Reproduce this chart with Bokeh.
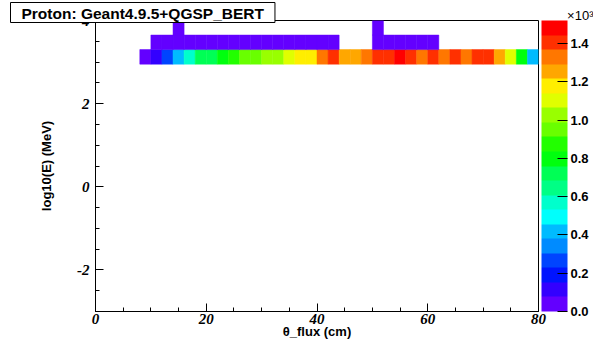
from bokeh.plotting import figure
from bokeh.models import (LinearColorMapper, ColorBar, FixedTicker, SingleIntervalTicker,
                          ColumnDataSource, Range1d, Title)
from bokeh.embed import file_html
from bokeh.resources import INLINE

# ---------------- data (2D histogram: theta_flux [cm] x log10(E) [MeV]) ----------------
x_bin_width = 2.0
y_bin_height = 0.35
row_y_low = [2.95, 3.30, 3.65]          # lower edges of the three filled log10(E) bins

row0_x_start = 8.0
row0_counts = [40, 115, 265, 420, 570, 715, 735, 800, 875, 940, 965, 1020,
               1045, 1100, 1170, 1190, 1330, 1405, 1255, 1265, 1325, 1410, 1425, 1520,
               1395, 1340, 1410, 1335, 1400, 1320, 1430, 1390, 1270, 1105, 795, 425]
row1_x_start = 10.0
row1_counts = [8, 12, 30, 25, 22, 20, 18, 16, 15, 14, 12, 10, 9, 8, 7, 6, 5,
               0, 0, 0,
               6, 9, 8, 7, 5, 4]
row2_x_start = 14.0
row2_counts = [3, 0, 0, 0, 0, 0, 0, 0, 0, 0, 0, 0, 0, 0, 0, 0, 0, 0, 2]

z_max = 1520
cbar_ticks = [0, 200, 400, 600, 800, 1000, 1200, 1400]
cbar_labels = ["0.0", "0.2", "0.4", "0.6", "0.8", "1.0", "1.2", "1.4"]
y_ticks_text = {-2: "-2", 0: "0", 2: "2", 4: "4"}

# ROOT "pretty palette" (violet -> red), 20 contour levels
palette = ["#6300ff", "#3300ff", "#0014ff", "#0044ff", "#008bff", "#00bbff", "#00fffc",
           "#00ffcc", "#00ff85", "#00ff55", "#00ff0e", "#22ff00", "#69ff00", "#99ff00",
           "#e0ff00", "#ffee00", "#ffa700", "#ff7700", "#ff3000", "#ff0000"]

xs, ys, vs = [], [], []
for ylow, xstart, counts in zip(row_y_low, [row0_x_start, row1_x_start, row2_x_start],
                                [row0_counts, row1_counts, row2_counts]):
    for i, c in enumerate(counts):
        if c > 0:
            xs.append(xstart + (i + 0.5) * x_bin_width)
            ys.append(ylow + 0.5 * y_bin_height)
            vs.append(c)
src = ColumnDataSource(dict(x=xs, y=ys, v=vs))

mapper = LinearColorMapper(palette=palette, low=0, high=z_max)

p = figure(width=593, height=346, x_range=Range1d(0, 80), y_range=Range1d(-3, 4),
           output_backend="svg", toolbar_location=None,
           min_border_left=95, min_border_right=55, min_border_top=20, min_border_bottom=35)
p.background_fill_color = "white"
p.border_fill_color = "white"
p.outline_line_color = "black"
p.outline_line_width = 1
p.xgrid.visible = False
p.ygrid.visible = False

p.rect(x="x", y="y", width=x_bin_width, height=y_bin_height, source=src,
       fill_color={"field": "v", "transform": mapper},
       line_color={"field": "v", "transform": mapper}, line_width=0.5)

p.xaxis.ticker = SingleIntervalTicker(interval=20, num_minor_ticks=4)
p.yaxis.ticker = SingleIntervalTicker(interval=2, num_minor_ticks=4)
for ax in (p.xaxis[0], p.yaxis[0]):
    ax.major_tick_in = 8
    ax.major_tick_out = 0
    ax.minor_tick_in = 4
    ax.minor_tick_out = 0
    ax.axis_line_color = "black"
    ax.major_tick_line_color = "black"
    ax.minor_tick_line_color = "black"
    ax.major_label_text_font = "Liberation Serif"
    ax.major_label_text_font_style = "bold italic"
    ax.major_label_text_font_size = "15px"
    ax.major_label_text_color = "black"
    ax.axis_label_text_font = "Liberation Sans"
    ax.axis_label_text_font_style = "bold"
    ax.axis_label_text_font_size = "13px"
    ax.axis_label_text_color = "black"

p.xaxis.axis_label = "θ_flux (cm)"
p.xaxis.major_label_standoff = 2
p.xaxis.axis_label_standoff = -3
p.yaxis.axis_label = "log10(E) (MeV)"
p.yaxis.major_label_standoff = 6
p.yaxis.axis_label_standoff = 20
p.yaxis.major_label_overrides = y_ticks_text

cb = ColorBar(color_mapper=mapper, ticker=FixedTicker(ticks=cbar_ticks),
              major_label_overrides={t: l for t, l in zip(cbar_ticks, cbar_labels)},
              width=26, height=291, padding=0, margin=0, location=(3, 0),
              major_tick_in=10, major_tick_out=0, major_tick_line_color="black",
              minor_tick_line_color=None, bar_line_color=None, label_standoff=3,
              major_label_text_font="Liberation Sans", major_label_text_font_style="bold",
              major_label_text_font_size="13px", major_label_text_color="black",
              background_fill_color="white", border_line_color=None)
p.add_layout(cb, "right")

p.title = Title(text="Proton: Geant4.9.5+QGSP_BERT", align="left", offset=-85, standoff=-28,
                text_font="Liberation Sans", text_font_style="bold", text_font_size="15.5px",
                text_color="black", background_fill_color="white", background_fill_alpha=1.0,
                border_line_color="black", border_line_width=1,
                padding=dict(left=11, right=11, top=2, bottom=1))

exp_title = Title(text="×10³", align="right", offset=-55, standoff=-5,
                  text_font="Liberation Sans", text_font_style="normal", text_font_size="13px",
                  text_color="black")
p.add_layout(exp_title, "above")

open("out.html", "w").write(file_html(p, INLINE))
